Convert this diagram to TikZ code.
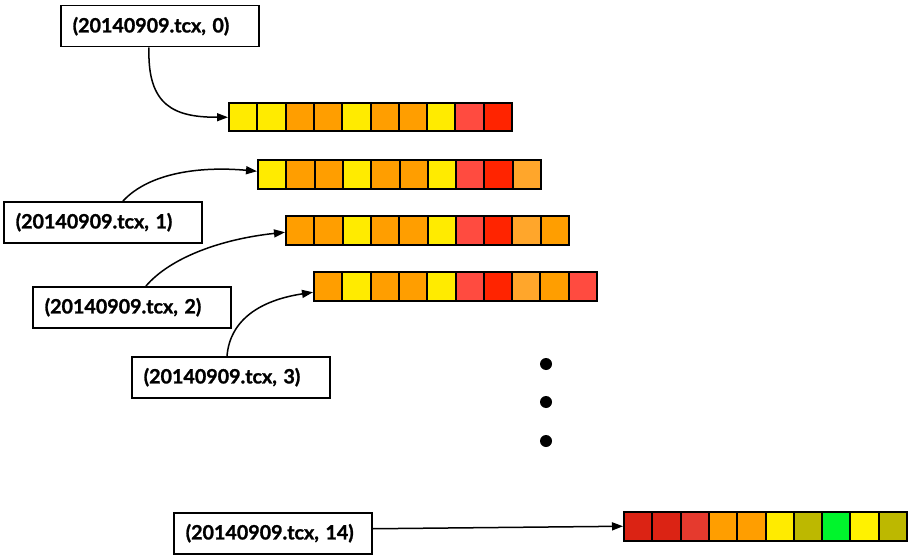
\documentclass[tikz,border=0pt]{standalone}
\usepackage{fontspec}
\setmainfont{Lato}[BoldFeatures={FakeBold=1.2}]
\usetikzlibrary{arrows.meta}
\definecolor{cY}{HTML}{FFEB00}
\definecolor{cO}{HTML}{FF9E00}
\definecolor{cLR}{HTML}{FF4B40}
\definecolor{cR}{HTML}{FF2400}
\definecolor{cLO}{HTML}{FFA62B}
\definecolor{cDR}{HTML}{DB2314}
\definecolor{cDD}{HTML}{E53A2E}
\definecolor{cOl}{HTML}{BDB800}
\definecolor{cG}{HTML}{00F52C}
\definecolor{cYY}{HTML}{FFF200}
\tikzset{
  x=1pt, y=1pt,
  label box/.style={draw=black, line width=1.5pt, fill=white, anchor=north west,
    text width=174pt, align=left, inner xsep=12pt, inner ysep=0pt,
    minimum height=41pt, font=\fontsize{19.7}{22}\selectfont\bfseries},
  cell/.style={draw=black, line width=2pt, anchor=north west, inner sep=0pt,
    minimum width=28.3pt, minimum height=28.5pt},
  conn/.style={line width=1.5pt, -{Triangle[length=11pt,width=8pt]}},
  dotn/.style={circle, fill=black, inner sep=0pt, minimum size=12pt}
}
\newcommand{\cellrow}[4]{%
  \foreach \c [count=\i] in {#4} {
    \node[cell, fill=\c] (#1-\i) at ({#2+(\i-1)*28.3}, -#3) {};
  }%
}
\begin{document}
\begin{tikzpicture}
\useasboundingbox (0,0) rectangle (920,-556);
\fill[white] (0,0) rectangle (920,-556);

\cellrow{r0}{228}{102}{cY,cY,cO,cO,cY,cO,cO,cY,cLR,cR}
\cellrow{r1}{257}{159}{cY,cO,cO,cY,cO,cO,cY,cLR,cR,cLO}
\cellrow{r2}{285}{215}{cO,cO,cY,cO,cO,cY,cLR,cR,cLO,cO}
\cellrow{r3}{313}{271}{cO,cY,cO,cO,cY,cLR,cR,cLO,cO,cLR}
\cellrow{r14}{623}{511}{cDR,cDR,cDD,cO,cO,cY,cOl,cG,cYY,cOl}

\node[label box] (b0) at (60,-5) {(20140909.tcx, 0)};
\node[label box] (b1) at (3,-201) {(20140909.tcx, 1)};
\node[label box] (b2) at (32,-286) {(20140909.tcx, 2)};
\node[label box] (b3) at (131,-356) {(20140909.tcx, 3)};
\node[label box] (b14) at (173,-512) {(20140909.tcx, 14)};

\node[dotn] (d1) at (546,-364) {};
\node[dotn] (d2) at (546,-402) {};
\node[dotn] (d3) at (546,-441) {};

\draw[conn] ([xshift=89pt]b0.south west) .. controls +(-2,-59) and +(-53,0) .. (r0-1.west);
\draw[conn] ([xshift=120pt]b1.north west) .. controls +(27,29) and +(-55,5) .. ([yshift=3pt]r1-1.west);
\draw[conn] ([xshift=114pt]b2.north west) .. controls +(24,28) and +(-65,-7) .. ([yshift=-2pt]r2-1.west);
\draw[conn] ([xshift=96pt]b3.north west) .. controls +(3,36) and +(-53,-8) .. ([yshift=-6pt]r3-1.west);
\draw[conn] ([yshift=4.5pt]b14.east) -- (r14-1.west);
\end{tikzpicture}
\end{document}
